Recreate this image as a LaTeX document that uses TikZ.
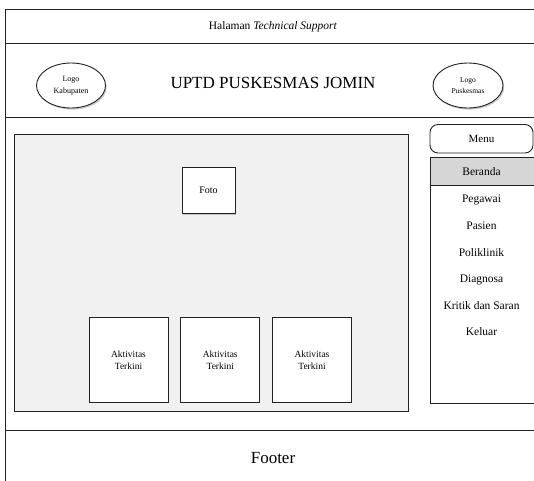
\documentclass[tikz,border=0pt]{standalone}
\usepackage{fontspec}
\setmainfont{Liberation Serif}
\usetikzlibrary{shapes.geometric,shadows}
\definecolor{linec}{HTML}{222222}
\definecolor{panel}{HTML}{F1F1F1}
\definecolor{selc}{HTML}{D6D6D6}
\tikzset{
  frame/.style={draw=linec, line width=0.9pt},
  boxn/.style={draw=linec, line width=0.9pt, fill=white, inner sep=0pt, align=center},
  shad/.style={drop shadow={shadow xshift=1.2pt, shadow yshift=-1.6pt, opacity=0.35, fill=black!60}},
  logo/.style={ellipse, draw=linec, line width=0.9pt, fill=white, inner sep=0pt, minimum width=69pt, minimum height=45pt, align=center, font=\fontsize{8}{11.5}\selectfont, shad},
  item/.style={font=\fontsize{11.5}{13}\selectfont, anchor=center, text height=8pt, text depth=2.5pt, inner sep=0pt},
  akt/.style={boxn, minimum width=79pt, minimum height=84.5pt, font=\fontsize{9.5}{12.5}\selectfont}
}
\begin{document}
\begin{tikzpicture}[x=1pt,y=-1pt]
\useasboundingbox (0,0) rectangle (534,480);
\clip (0,0) rectangle (534,480);
% outer frame and rows
\draw[frame] (5,9.5) rectangle (560,500);
\draw[frame] (5,43.5) -- (560,43.5);
\draw[frame] (5,117.5) -- (560,117.5);
\draw[frame] (5,430.5) -- (560,430.5);
\node (hal) at (273,27) {\fontsize{11.5}{13}\selectfont Halaman \textit{Technical Support}};
\node (title) at (273,83) {\fontsize{17}{19}\selectfont UPTD PUSKESMAS JOMIN};
\node[logo] (lkab) at (71,85.5) {Logo\\Kabupaten};
\node[logo, font=\fontsize{7.5}{11}\selectfont, minimum width=70pt] (lpus) at (468,85.5) {Logo\\Puskesmas};
% content panel
\node[draw=linec, line width=0.9pt, fill=panel, inner sep=0pt, minimum width=393.5pt, minimum height=276.5pt] (panel) at (211.25,272.75) {};
\node[boxn, minimum width=53pt, minimum height=46.5pt, font=\fontsize{10}{12}\selectfont, shad] (foto) at (208.5,190.25) {Foto};
\node[akt] (a1) at (128.5,360) {Aktivitas\\Terkini};
\node[akt] (a2) at (220.25,360) {Aktivitas\\Terkini};
\node[akt] (a3) at (312,360) {Aktivitas\\Terkini};
% menu
\node[draw=linec, line width=0.9pt, rounded corners=8pt, fill=white, minimum width=103pt, minimum height=28.5pt, inner sep=0pt, font=\fontsize{11}{13}\selectfont] (menu) at (481.5,138.75) {Menu};
\node[draw=linec, line width=0.9pt, fill=white, minimum width=120pt, minimum height=246pt, inner sep=0pt] (list) at (490,280) {};
\node[draw=linec, line width=0.9pt, fill=selc, minimum width=120pt, minimum height=28pt, inner sep=0pt] (bersel) at (490,171) {};
\node[item] (i1) at (481.5,172.5) {Beranda};
\node[item] (i2) at (481.5,200) {Pegawai};
\node[item] (i3) at (481.5,227) {Pasien};
\node[item] (i4) at (481.5,253.5) {Poliklinik};
\node[item] (i5) at (481.5,280) {Diagnosa};
\node[item] (i6) at (481.5,306.5) {Kritik dan Saran};
\node[item] (i7) at (481.5,333) {Keluar};
\node (footer) at (273,458) {\fontsize{17}{19}\selectfont Footer};
\end{tikzpicture}
\end{document}
